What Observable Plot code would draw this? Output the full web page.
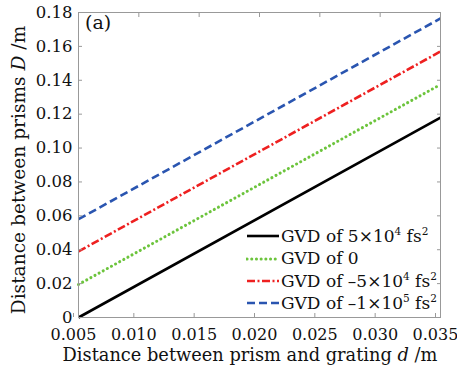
<!DOCTYPE html>
<html>
<head>
<meta charset="utf-8">
<script src="https://cdn.jsdelivr.net/npm/d3@7"></script>
<script src="https://cdn.jsdelivr.net/npm/@observablehq/plot@0.6"></script>
<style>
  html, body { margin: 0; padding: 0; background: #fff; }
  #wrap { position: relative; width: 457px; height: 375px; }
  #legend { position: absolute; left: 246px; top: 225px; font-family: "DejaVu Serif", serif; font-size: 17px; color: #111; line-height: 22.4px; }
  #legend .row { display: flex; align-items: center; white-space: nowrap; height: 22.4px; }
  #legend svg { margin-right: 1px; flex: none; }
  #legend sup { font-size: 10.5px; vertical-align: 7px; line-height: 0; }
</style>
</head>
<body>
<div id="wrap"></div>
<script>
// Data
const dValues = [0.005, 0.035];                 // distance between prism and grating d (m)
const seriesNames = ["GVD of 5\u00d710<sup>4</sup> fs<sup>2</sup>", "GVD of 0", "GVD of \u20135\u00d710<sup>4</sup> fs<sup>2</sup>", "GVD of \u20131\u00d710<sup>5</sup> fs<sup>2</sup>"];
const gvdPos5e4 = [0.000, 0.118];
const gvdZero = [0.0195, 0.1375];
const gvdNeg5e4 = [0.039, 0.157];
const gvdNeg1e5 = [0.058, 0.1765];
const xTicks = [0.005, 0.010, 0.015, 0.020, 0.025, 0.030, 0.035];
const yTicks = [0, 0.02, 0.04, 0.06, 0.08, 0.10, 0.12, 0.14, 0.16, 0.18];

const seriesValues = [gvdPos5e4, gvdZero, gvdNeg5e4, gvdNeg1e5];
const styles = [
  {stroke: "#000000", strokeWidth: 2.6, dash: null, cap: "butt"},
  {stroke: "#6cc43c", strokeWidth: 3, dash: "0.1 4.6", cap: "round"},
  {stroke: "#ee2020", strokeWidth: 2.6, dash: "8 2.5 2 2.5", cap: "butt"},
  {stroke: "#2a55b0", strokeWidth: 2.6, dash: "8 4", cap: "butt"}
];

const rows = [];
seriesValues.forEach((vals, s) => vals.forEach((v, i) => rows.push({s, x: dValues[i], y: v})));

const font = "DejaVu Serif";
const plot = Plot.plot({
  width: 457,
  height: 375,
  marginLeft: 78,
  marginRight: 17,
  marginTop: 12,
  marginBottom: 58,
  style: {fontFamily: font, fontSize: "16px", color: "#111", background: "#fff", overflow: "visible"},
  x: {domain: [0.005, 0.035]},
  y: {domain: [0, 0.18]},
  marks: [
    ...seriesValues.map((vals, s) => Plot.line(rows.filter(r => r.s === s), {
      x: "x", y: "y", stroke: styles[s].stroke, strokeWidth: styles[s].strokeWidth,
      strokeDasharray: styles[s].dash, strokeLinecap: styles[s].cap
    })),
    Plot.frame({stroke: "#999", strokeWidth: 1}),
    Plot.axisX({ticks: xTicks, tickSize: -4, tickPadding: 15, dx: -5, stroke: "#999", tickFormat: d3.format(".3f"), label: null, fill: "#111", fontSize: 16}),
    Plot.axisX({anchor: "top", ticks: xTicks, tickSize: -4, stroke: "#999", tickFormat: () => "", label: null}),
    Plot.axisY({ticks: yTicks, tickSize: -4, tickPadding: 10, stroke: "#999", tickFormat: d => d === 0 ? "0" : d3.format(".2f")(d), label: null, fill: "#111", fontSize: 16.5}),
    Plot.axisY({anchor: "right", ticks: yTicks, tickSize: -4, stroke: "#999", tickFormat: () => "", label: null})
  ]
});

const svg = d3.select(plot);
// panel label
svg.append("text").attr("x", 85).attr("y", 29).attr("text-anchor", "start")
  .attr("font-family", font).attr("font-size", 19).attr("fill", "#111").text("(a)");
// x axis label
const xl = svg.append("text").attr("x", 250).attr("y", 360.5).attr("text-anchor", "middle")
  .attr("font-family", font).attr("font-size", 17.8).attr("fill", "#111");
xl.append("tspan").text("Distance between prism and grating ");
xl.append("tspan").attr("font-style", "italic").text("d");
xl.append("tspan").text(" /m");
// y axis label
const yl = svg.append("text").attr("transform", "translate(25,170) rotate(-90)").attr("text-anchor", "middle")
  .attr("font-family", font).attr("font-size", 18.6).attr("fill", "#111");
yl.append("tspan").text("Distance between prisms ");
yl.append("tspan").attr("font-style", "italic").text("D");
yl.append("tspan").text(" /m");

const wrap = document.getElementById("wrap");
wrap.appendChild(plot);

// legend (HTML overlay)
const legend = document.createElement("div");
legend.id = "legend";
seriesNames.forEach((name, s) => {
  const row = document.createElement("div");
  row.className = "row";
  const st = styles[s];
  row.innerHTML = `<svg width="34" height="10"><line x1="1" y1="5" x2="33" y2="5" stroke="${st.stroke}" stroke-width="${st.strokeWidth}" ${st.dash ? `stroke-dasharray="${st.dash}"` : ""} stroke-linecap="${st.cap}"/></svg><span>${name}</span>`;
  legend.appendChild(row);
});
wrap.appendChild(legend);
</script>
</body>
</html>
